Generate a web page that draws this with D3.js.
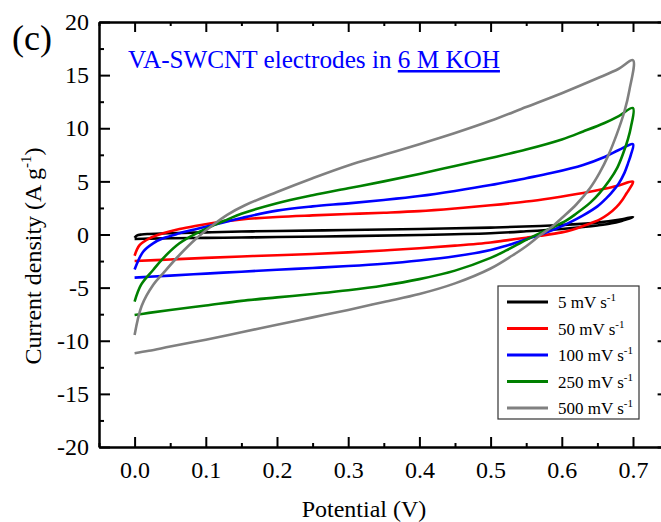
<!DOCTYPE html>
<html>
<head>
<meta charset="utf-8">
<script src="https://cdn.jsdelivr.net/npm/d3@7"></script>
<style>
  body { margin: 0; background: #fff; }
  svg { display: block; font-family: "Liberation Serif", "Times New Roman", serif; }
  .axis path, .axis line { stroke: #000; stroke-width: 2; }
  .axis text { font-family: "Liberation Serif", serif; font-size: 24px; fill: #000; }
</style>
</head>
<body>
<svg id="chart" width="661" height="522"></svg>
<script>
// scan rates (legend) and colours
const rates = ["5", "50", "100", "250", "500"];
const colors = ["#000000", "#ff0000", "#0000ff", "#008000", "#808080"];

// CV loops as [potential V, current density A/g]: anodic sweep 0 -> 0.7, then cathodic 0.7 -> 0
const cv5 = [
  [0,-0.3],[0.003,-0.1],[0.01,0],[0.02,0.05],[0.05,0.12],[0.1,0.2],[0.15,0.28],[0.2,0.33],[0.3,0.42],
  [0.4,0.52],[0.5,0.65],[0.57,0.8],[0.6,0.9],[0.65,1.12],[0.68,1.38],[0.7,1.65],
  [0.695,1.5],[0.685,1.3],[0.67,1.05],[0.65,0.85],[0.63,0.7],[0.6,0.52],[0.55,0.3],[0.5,0.12],
  [0.4,-0.05],[0.3,-0.15],[0.2,-0.24],[0.15,-0.28],[0.1,-0.32],[0.05,-0.36],[0.02,-0.39],[0,-0.42]
];
const cv50 = [
  [0,-2.0],[0.007,-1.0],[0.021,-0.36],[0.04,0.11],[0.063,0.52],[0.087,0.83],[0.11,1.08],[0.13,1.27],
  [0.15,1.42],[0.2,1.65],[0.25,1.8],[0.3,1.93],[0.35,2.05],[0.4,2.2],[0.45,2.45],[0.5,2.75],
  [0.55,3.1],[0.585,3.42],[0.63,3.9],[0.66,4.3],[0.68,4.62],[0.7,4.97],
  [0.697,4.5],[0.691,3.88],[0.685,3.25],[0.677,2.6],[0.665,1.9],[0.653,1.4],[0.63,0.8],
  [0.615,0.45],[0.6,0.2],[0.57,-0.12],[0.55,-0.3],[0.522,-0.55],[0.5,-0.75],[0.45,-1.05],
  [0.4,-1.3],[0.35,-1.5],[0.3,-1.68],[0.25,-1.83],[0.2,-1.95],[0.15,-2.07],[0.1,-2.2],[0.05,-2.35],[0,-2.5]
];
const cv100 = [
  [0,-3.3],[0.012,-1.62],[0.026,-0.83],[0.04,-0.36],[0.063,0.11],[0.087,0.52],[0.11,0.9],
  [0.13,1.22],[0.15,1.55],[0.2,2.25],[0.25,2.65],[0.3,2.93],[0.35,3.25],[0.4,3.62],[0.45,4.1],
  [0.5,4.65],[0.55,5.3],[0.585,5.78],[0.63,6.55],[0.66,7.3],[0.68,7.95],[0.7,8.5],
  [0.697,7.5],[0.693,6.7],[0.688,5.8],[0.68,4.8],[0.67,3.95],[0.663,3.45],[0.65,2.65],[0.63,1.8],
  [0.61,1.1],[0.59,0.5],[0.57,0.0],[0.55,-0.45],[0.522,-1.05],[0.5,-1.45],[0.45,-2.05],
  [0.4,-2.45],[0.35,-2.75],[0.3,-2.97],[0.25,-3.15],[0.2,-3.32],[0.15,-3.5],[0.1,-3.68],[0.05,-3.87],[0.02,-3.98],[0,-4.06]
];
const cv250 = [
  [0,-6.32],[0.009,-4.75],[0.026,-3.34],[0.04,-2.24],[0.063,-0.83],[0.087,0.11],[0.11,0.83],
  [0.13,1.4],[0.15,1.95],[0.2,2.95],[0.25,3.7],[0.3,4.35],[0.35,5.0],[0.4,5.7],[0.45,6.45],
  [0.5,7.2],[0.55,8.0],[0.6,8.95],[0.63,9.7],[0.66,10.5],[0.68,11.15],[0.7,11.9],
  [0.697,10.1],[0.693,9.0],[0.686,7.6],[0.678,6.3],[0.667,5.1],[0.653,3.9],[0.64,3.0],
  [0.62,1.95],[0.606,1.3],[0.585,0.6],[0.57,0.15],[0.55,-0.5],[0.522,-1.5],[0.5,-2.2],[0.45,-3.4],
  [0.4,-4.2],[0.35,-4.8],[0.3,-5.25],[0.25,-5.6],[0.2,-5.92],[0.15,-6.25],[0.1,-6.68],[0.05,-7.1],[0.02,-7.38],[0,-7.58]
];
const cv500 = [
  [0,-9.46],[0.01,-6.7],[0.026,-4.75],[0.04,-3.65],[0.063,-1.93],[0.087,-0.36],[0.11,0.89],
  [0.13,1.85],[0.155,2.75],[0.2,4.0],[0.25,5.3],[0.3,6.5],[0.35,7.5],[0.4,8.5],[0.45,9.55],
  [0.5,10.7],[0.55,12.0],[0.6,13.3],[0.65,14.7],[0.68,15.6],[0.7,16.4],
  [0.695,13.6],[0.688,11.6],[0.677,9.4],[0.665,7.4],[0.653,5.8],[0.64,4.4],[0.62,2.8],
  [0.6,1.55],[0.585,0.65],[0.57,-0.05],[0.55,-1.1],[0.53,-2.0],[0.5,-3.2],[0.45,-4.6],
  [0.4,-5.6],[0.35,-6.35],[0.3,-7.1],[0.25,-7.8],[0.2,-8.5],[0.15,-9.2],[0.1,-9.9],[0.05,-10.55],
  [0.02,-10.95],[0,-11.18]
];
const loops = [cv5, cv50, cv100, cv250, cv500];

const xTicks = [0, 0.1, 0.2, 0.3, 0.4, 0.5, 0.6, 0.7];
const yTicks = [-20, -15, -10, -5, 0, 5, 10, 15, 20];

const svg = d3.select("#chart");
const m = {left: 99, right: 668.6, top: 22, bottom: 447};

const x = d3.scaleLinear().domain([-0.05, 0.75]).range([m.left, m.right]);
const y = d3.scaleLinear().domain([-20, 20]).range([m.bottom, m.top]);

const xMinor = d3.range(-0.05, 0.76, 0.1).map(v => +v.toFixed(2));
const yMinor = d3.range(-17.5, 20, 5);

// axes, ticks inward on all four sides
svg.append("g").attr("class", "axis").attr("transform", `translate(0,${m.bottom})`)
  .call(d3.axisBottom(x).tickValues(xTicks).tickSize(-10).tickSizeOuter(0).tickPadding(14).tickFormat(d3.format(".1f")));
svg.append("g").attr("class", "axis").attr("transform", `translate(0,${m.bottom})`)
  .call(d3.axisBottom(x).tickValues(xMinor).tickSize(-4).tickSizeOuter(0).tickFormat(""));
svg.append("g").attr("class", "axis").attr("transform", `translate(0,${m.top})`)
  .call(d3.axisTop(x).tickValues(xTicks).tickSize(-10).tickSizeOuter(0).tickFormat(""));
svg.append("g").attr("class", "axis").attr("transform", `translate(0,${m.top})`)
  .call(d3.axisTop(x).tickValues(xMinor).tickSize(-4).tickSizeOuter(0).tickFormat(""));

svg.append("g").attr("class", "axis").attr("transform", `translate(${m.left},0)`)
  .call(d3.axisLeft(y).tickValues(yTicks).tickSize(-11).tickSizeOuter(0).tickPadding(10).tickFormat(d => String(d)));
svg.append("g").attr("class", "axis").attr("transform", `translate(${m.left},0)`)
  .call(d3.axisLeft(y).tickValues(yMinor).tickSize(-5).tickSizeOuter(0).tickFormat(""));
svg.append("g").attr("class", "axis").attr("transform", `translate(${m.right},0)`)
  .call(d3.axisRight(y).tickValues(yTicks).tickSize(-11).tickSizeOuter(0).tickFormat(""));
svg.append("g").attr("class", "axis").attr("transform", `translate(${m.right},0)`)
  .call(d3.axisRight(y).tickValues(yMinor).tickSize(-5).tickSizeOuter(0).tickFormat(""));

// CV loops
const line = d3.line().x(d => x(d[0])).y(d => y(d[1])).curve(d3.curveCatmullRom.alpha(0.5));
svg.append("g").selectAll("path").data(loops).join("path")
  .attr("d", line)
  .attr("fill", "none")
  .attr("stroke", (d, i) => colors[i])
  .attr("stroke-width", 2.6)
  .attr("stroke-linejoin", "round");

// panel label and title
svg.append("text").attr("x", 12).attr("y", 50).attr("font-size", 36).text("(c)");
const title = svg.append("text").attr("x", 128).attr("y", 68).attr("font-size", 25.2).attr("fill", "#0000ff");
title.append("tspan").text("VA-SWCNT electrodes in ");
title.append("tspan").attr("text-decoration", "underline").text("6 M KOH");

// axis titles
svg.append("text").attr("x", 364).attr("y", 517).attr("text-anchor", "middle").attr("font-size", 24).text("Potential (V)");
const yt = svg.append("text").attr("transform", "translate(41,256) rotate(-90)")
  .attr("text-anchor", "middle").attr("font-size", 24);
yt.append("tspan").text("Current density (A g");
yt.append("tspan").attr("font-size", 15).attr("dy", -10).text("-1");
yt.append("tspan").attr("dy", 10).text(")");

// legend
const lg = svg.append("g").attr("transform", "translate(498,286)");
lg.append("rect").attr("width", 141).attr("height", 133).attr("fill", "#fff").attr("stroke", "#333").attr("stroke-width", 1.2);
const row = lg.selectAll("g").data(rates).join("g")
  .attr("transform", (d, i) => `translate(0,${16 + i * 26.5})`);
row.append("line").attr("x1", 9).attr("x2", 50)
  .attr("stroke", (d, i) => colors[i]).attr("stroke-width", 3);
const lt = row.append("text").attr("x", 60).attr("y", 6).attr("font-size", 17);
lt.append("tspan").text(d => d + " mV s");
lt.append("tspan").attr("font-size", 11).attr("dy", -7).text("-1");
</script>
</body>
</html>
